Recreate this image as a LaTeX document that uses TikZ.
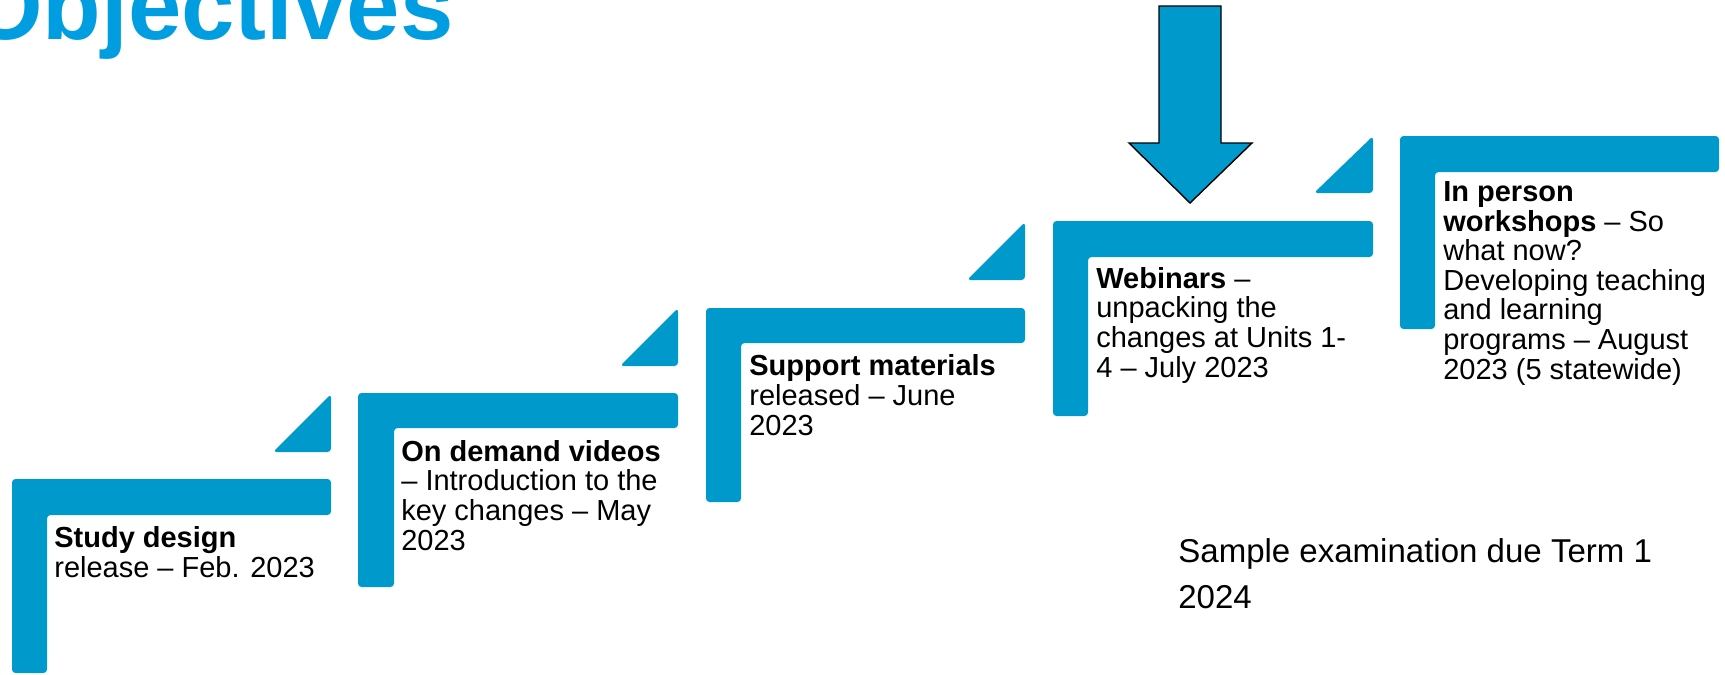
\documentclass[tikz,border=0pt]{standalone}
\usepackage{fontspec}
\setmainfont{Liberation Sans}
\usepackage{tikz}

\definecolor{stepblue}{RGB}{0,153,204}
\definecolor{titleblue}{RGB}{0,158,224}

% labels hang from the baseline of their last line
\tikzset{
  stepbar/.style={fill=stepblue, rounded corners=2},
  steplabel/.style={anchor=base west, inner sep=0pt, align=left,
    font=\fontsize{16.5pt}{16.8pt}\selectfont}
}

\begin{document}
\begin{tikzpicture}[x=0.02cm, y=-0.02cm]
\useasboundingbox (0, 0) rectangle (1725, 674);
\clip (0, 0) rectangle (1725, 674);
\node[anchor=base west, inner sep=0pt, text=titleblue, font=\fontsize{54.6pt}{60pt}\selectfont\bfseries] (title) at (-32, 39) {Objectives};
% the five steps
\fill[stepbar] (12, 479) -- (331, 479) -- (331, 515) -- (47, 515) -- (47, 673) -- (12, 673) -- cycle;
\fill[stepbar] (358, 393) -- (678, 393) -- (678, 428) -- (394, 428) -- (394, 587) -- (358, 587) -- cycle;
\fill[stepbar] (706, 308) -- (1025, 308) -- (1025, 343) -- (741, 343) -- (741, 502) -- (706, 502) -- cycle;
\fill[stepbar] (1053, 221) -- (1373, 221) -- (1373, 257) -- (1088, 257) -- (1088, 416) -- (1053, 416) -- cycle;
\fill[stepbar] (1400, 136) -- (1719, 136) -- (1719, 172) -- (1435, 172) -- (1435, 329) -- (1400, 329) -- cycle;
% corner pieces
\fill[stepbar] (273, 452) -- (331, 452) -- (331, 394) -- cycle;
\fill[stepbar] (620, 366) -- (678, 366) -- (678, 308) -- cycle;
\fill[stepbar] (967, 280) -- (1025, 280) -- (1025, 222) -- cycle;
\fill[stepbar] (1314, 193) -- (1373, 193) -- (1373, 136) -- cycle;
% we are here
\draw[fill=stepblue, line width=0.8pt] (1159, 6) -- (1221, 6) -- (1221, 143) -- (1252, 143) -- (1190, 203) -- (1129, 143) -- (1159, 143) -- cycle;
\node[steplabel] (studydesign) at (54, 577) {\textbf{Study design}\\release -- Feb. 2023};
\node[steplabel] (videos) at (401, 550) {\textbf{On demand videos}\\-- Introduction to the\\key changes -- May\\2023};
\node[steplabel] (materials) at (749, 435) {\textbf{Support materials}\\released -- June\\2023};
\node[steplabel] (webinars) at (1096, 377) {\textbf{Webinars} --\\unpacking the\\changes at Units 1-\\4 -- July 2023};
\node[steplabel] (workshops) at (1443, 379) {\textbf{In person}\\\textbf{workshops} -- So\\what now?\\Developing teaching\\and learning\\programs -- August\\2023 (5 statewide)};
\node[anchor=base west, inner sep=0pt, align=left, font=\fontsize{18.8pt}{26pt}\selectfont] (sample) at (1178, 608) {Sample examination due Term 1\\2024};
\end{tikzpicture}
\end{document}
